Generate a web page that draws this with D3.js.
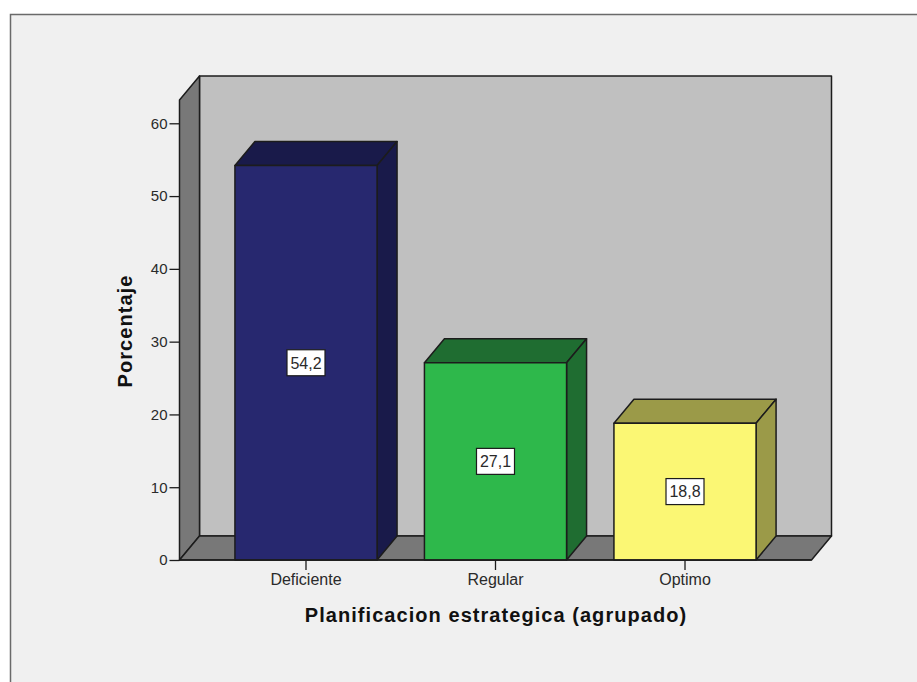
<!DOCTYPE html>
<html>
<head>
<meta charset="utf-8">
<script src="https://cdn.jsdelivr.net/npm/d3@7/dist/d3.min.js"></script>
<style>
html,body{margin:0;padding:0;background:#fff;overflow:hidden}
svg{display:block}
text{font-family:"Liberation Sans",Arial,sans-serif;fill:#2a2a2a}
</style>
</head>
<body>
<svg id="chart" width="917" height="682"></svg>
<script>
// Percentage of respondents per strategic-planning group
const categories = ["Deficiente", "Regular", "Optimo"];
const percentages = [54.2, 27.1, 18.8];
const valueLabels = ["54,2", "27,1", "18,8"];
const yTicks = [0, 10, 20, 30, 40, 50, 60];
const frontColors = ["#27286f", "#2eb84b", "#fbf774"];
const sideColors = ["#191a4a", "#1f6d31", "#9b9a48"];

const svg = d3.select("#chart");
const outline = "#1c1c1c";

// Chart panel: its border runs along the top and left edges only
svg.append("rect").attr("x", 10).attr("y", 14).attr("width", 907).attr("height", 668).attr("fill", "#f0f0f0");
svg.append("path").attr("d", "M10.5,682V14.5H917").attr("fill", "none").attr("stroke", "#6a6a6a").attr("stroke-width", 1.5);

const x = d3.scaleBand().domain(categories).range([179.5, 811.5]).paddingInner(0.25).paddingOuter(0.2925);
const y = d3.scaleLinear().domain([0, 63.2]).range([560, 100]);

// Oblique offset used for every receding face
const depthX = 20, depthY = -24;
const poly = pts => "M" + pts.map(p => p.join(",")).join("L") + "Z";

const x0 = x.range()[0], x1 = x.range()[1], yBase = y(0), yTop = y.range()[1];

// Back wall, left wall and floor of the 3D box
const box = svg.append("g").attr("stroke", outline).attr("stroke-width", 1.5).attr("stroke-linejoin", "round");
box.append("path").attr("fill", "#c0c0c0")
  .attr("d", poly([[x0 + depthX, yBase + depthY], [x0 + depthX, yTop + depthY], [x1 + depthX, yTop + depthY], [x1 + depthX, yBase + depthY]]));
box.append("path").attr("fill", "#787878")
  .attr("d", poly([[x0, yBase], [x0, yTop], [x0 + depthX, yTop + depthY], [x0 + depthX, yBase + depthY]]));
box.append("path").attr("fill", "#787878")
  .attr("d", poly([[x0, yBase], [x0 + depthX, yBase + depthY], [x1 + depthX, yBase + depthY], [x1, yBase]]));

// Each bar: top face, side face, front face
const bars = svg.append("g").selectAll("g").data(categories).join("g")
  .attr("stroke", outline).attr("stroke-width", 1.5).attr("stroke-linejoin", "round");
bars.append("path").attr("fill", (d, i) => sideColors[i])
  .attr("d", (d, i) => {
    const l = x(d), r = l + x.bandwidth(), t = y(percentages[i]);
    return poly([[l, t], [l + depthX, t + depthY], [r + depthX, t + depthY], [r, t]]);
  });
bars.append("path").attr("fill", (d, i) => sideColors[i])
  .attr("d", (d, i) => {
    const r = x(d) + x.bandwidth(), t = y(percentages[i]);
    return poly([[r, yBase], [r, t], [r + depthX, t + depthY], [r + depthX, yBase + depthY]]);
  });
bars.append("rect")
  .attr("x", d => x(d)).attr("width", x.bandwidth())
  .attr("y", (d, i) => y(percentages[i])).attr("height", (d, i) => yBase - y(percentages[i]))
  .attr("fill", (d, i) => frontColors[i]);

// Axes
const yAxis = d3.axisLeft(y).tickValues(yTicks).tickSize(10).tickPadding(2).tickFormat(d3.format("d"));
const yG = svg.append("g").attr("transform", `translate(${x0},0)`).call(yAxis);
yG.select(".domain").remove();
yG.selectAll("line").attr("stroke", outline).attr("stroke-width", 1.3);
yG.selectAll("text").attr("font-size", 15).attr("font-family", "Liberation Sans");

const xAxis = d3.axisBottom(x).tickSize(10).tickPadding(4);
const xG = svg.append("g").attr("transform", `translate(0,${yBase})`).call(xAxis);
xG.select(".domain").attr("stroke", outline).attr("stroke-width", 1.5).attr("d", `M${x0},0H${x1}`);
xG.selectAll("line").attr("stroke", outline).attr("stroke-width", 1.3);
xG.selectAll("text").attr("font-size", 16).attr("font-family", "Liberation Sans");

// Value labels centred on the front faces
const labels = svg.append("g").selectAll("g").data(categories).join("g")
  .attr("transform", (d, i) => `translate(${x(d) + x.bandwidth() / 2},${y(percentages[i] / 2)})`);
labels.append("rect").attr("x", -19).attr("y", -13).attr("width", 38).attr("height", 26)
  .attr("fill", "#fff").attr("stroke", outline).attr("stroke-width", 1.2);
labels.append("text").attr("text-anchor", "middle").attr("dy", "0.36em").attr("font-size", 16)
  .text((d, i) => valueLabels[i]);

// Axis titles
svg.append("text").attr("x", 496).attr("y", 622).attr("text-anchor", "middle")
  .attr("font-size", 20).attr("font-weight", "bold").attr("letter-spacing", 1.05).style("fill", "#111")
  .text("Planificacion estrategica (agrupado)");
svg.append("text").attr("transform", "translate(132,331) rotate(-90)").attr("text-anchor", "middle")
  .attr("font-size", 20).attr("font-weight", "bold").attr("letter-spacing", 1.05).style("fill", "#111")
  .text("Porcentaje");
</script>
</body>
</html>
